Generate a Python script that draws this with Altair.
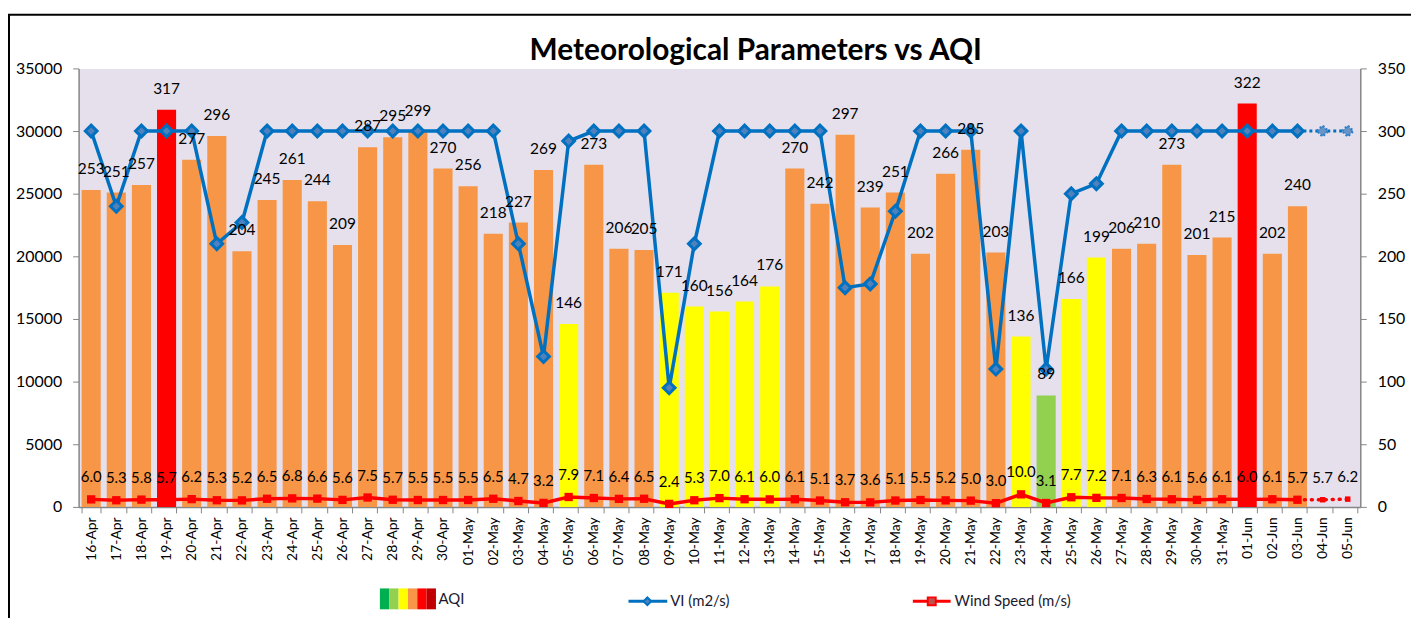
import altair as alt
import pandas as pd

# ---------------- data ----------------
dates = ["16-Apr", "17-Apr", "18-Apr", "19-Apr", "20-Apr", "21-Apr", "22-Apr", "23-Apr",
         "24-Apr", "25-Apr", "26-Apr", "27-Apr", "28-Apr", "29-Apr", "30-Apr",
         "01-May", "02-May", "03-May", "04-May", "05-May", "06-May", "07-May", "08-May",
         "09-May", "10-May", "11-May", "12-May", "13-May", "14-May", "15-May", "16-May",
         "17-May", "18-May", "19-May", "20-May", "21-May", "22-May", "23-May", "24-May",
         "25-May", "26-May", "27-May", "28-May", "29-May", "30-May", "31-May",
         "01-Jun", "02-Jun", "03-Jun", "04-Jun", "05-Jun"]

aqi = [253, 251, 257, 317, 277, 296, 204, 245, 261, 244, 209, 287, 295, 299, 270,
       256, 218, 227, 269, 146, 273, 206, 205, 171, 160, 156, 164, 176, 270, 242, 297,
       239, 251, 202, 266, 285, 203, 136, 89, 166, 199, 206, 210, 273, 201, 215,
       322, 202, 240]

vi = [30000, 24000, 30000, 30000, 30000, 21000, 22700, 30000, 30000, 30000, 30000,
      30000, 30000, 30000, 30000,
      30000, 30000, 21000, 12000, 29200, 30000, 30000, 30000, 9500, 21000, 30000,
      30000, 30000, 30000, 30000, 17500, 17800, 23600, 30000, 30000, 30000, 11000,
      30000, 11000, 25000, 25800, 30000, 30000, 30000, 30000, 30000,
      30000, 30000, 30000, 30000, 30000]

wind = [6.0, 5.3, 5.8, 5.7, 6.2, 5.3, 5.2, 6.5, 6.8, 6.6, 5.6, 7.5, 5.7, 5.5, 5.5,
        5.5, 6.5, 4.7, 3.2, 7.9, 7.1, 6.4, 6.5, 2.4, 5.3, 7.0, 6.1, 6.0, 6.1, 5.1,
        3.7, 3.6, 5.1, 5.5, 5.2, 5.0, 3.0, 10.0, 3.1, 7.7, 7.2, 7.1, 6.3, 6.1, 5.6, 6.1,
        6.0, 6.1, 5.7, 5.7, 6.2]

aqi_breaks = [51, 101, 201, 301, 401]
aqi_colors = ["#00B050", "#92D050", "#FFFF00", "#F79646", "#FF0000", "#C00000"]
title_text = "Meteorological Parameters vs AQI"
legend_labels = ["AQI", "VI (m2/s)", "Wind Speed (m/s)"]

n_obs = len(aqi)  # observed days; the rest are forecast
df = pd.DataFrame({"date": dates, "vi": vi, "wind": wind,
                   "aqi": aqi + [None] * (len(dates) - n_obs)})
df_obs = df.iloc[:n_obs]
df_fc = df.iloc[n_obs - 1:]

FONT = "Lato"

x_enc = alt.X("date:N", sort=dates, title=None,
              scale=alt.Scale(domain=dates, paddingInner=0.24, paddingOuter=0.12),
              axis=alt.Axis(labelAngle=-90, labelFontSize=14, labelFont=FONT,
                            labelColor="black", tickBand="extent", tickSize=6,
                            labelPadding=4, domainColor="#868686", tickColor="#868686",
                            domainWidth=1.5, grid=False))

right_scale = alt.Scale(domain=[0, 350], nice=False)
left_scale = alt.Scale(domain=[0, 35000], nice=False)

# AQI bars (right axis)
bars = alt.Chart(df_obs).mark_bar().encode(
    x=x_enc,
    y=alt.Y("aqi:Q", scale=right_scale, title=None,
            axis=alt.Axis(orient="right", values=[0, 50, 100, 150, 200, 250, 300, 350],
                          format="d", labelFontSize=16, labelFont=FONT, labelColor="black",
                          tickSize=6, labelPadding=11, domainColor="#868686",
                          tickColor="#868686", domainWidth=1.5, grid=False)),
    color=alt.Color("aqi:Q", legend=None,
                    scale=alt.Scale(type="threshold", domain=aqi_breaks, range=aqi_colors)),
)

# VI line (left axis)
vi_line = alt.Chart(df_obs).mark_line(color="#0070C0", strokeWidth=3.5).encode(
    x=x_enc,
    y=alt.Y("vi:Q", scale=left_scale, title=None,
            axis=alt.Axis(orient="left", values=list(range(0, 35001, 5000)), format="d",
                          labelFontSize=16, labelFont=FONT, labelColor="black",
                          tickSize=6, labelPadding=11, domainColor="#868686",
                          tickColor="#868686", domainWidth=1.5, grid=False)),
)
vi_pts = alt.Chart(df_obs).mark_point(shape="diamond", filled=True, size=140,
                                      fill="#4F81BD", stroke="#0070C0", strokeWidth=3,
                                      opacity=1).encode(
    x=x_enc, y=alt.Y("vi:Q", scale=left_scale, axis=None))
vi_fc_line = alt.Chart(df_fc).mark_line(color="#0070C0", strokeWidth=3,
                                        strokeDash=[3, 3]).encode(
    x=x_enc, y=alt.Y("vi:Q", scale=left_scale, axis=None))
vi_fc_pts = alt.Chart(df_fc.iloc[1:]).mark_point(shape="diamond", filled=True, size=120,
                                                 fill="#6A94C8", stroke="#2F7FC8",
                                                 strokeWidth=2.5, strokeDash=[2, 2],
                                                 opacity=1).encode(
    x=x_enc, y=alt.Y("vi:Q", scale=left_scale, axis=None))

# AQI labels
aqi_lbl = alt.Chart(df_obs).mark_text(font=FONT, fontSize=15.5, color="black",
                                      baseline="middle", dy=-21).encode(
    x=x_enc, y=alt.Y("aqi:Q", scale=right_scale, axis=None), text="aqi:Q")

# Wind speed (right axis scale)
wind_line = alt.Chart(df_obs).mark_line(color="#FF0000", strokeWidth=3.5).encode(
    x=x_enc, y=alt.Y("wind:Q", scale=right_scale, axis=None))
wind_pts = alt.Chart(df_obs).mark_point(shape="square", filled=True, size=70,
                                        color="#FF0000", opacity=1).encode(
    x=x_enc, y=alt.Y("wind:Q", scale=right_scale, axis=None))
wind_fc_line = alt.Chart(df_fc).mark_line(color="#FF0000", strokeWidth=3.5,
                                          strokeDash=[1, 6], strokeCap="round").encode(
    x=x_enc, y=alt.Y("wind:Q", scale=right_scale, axis=None))
wind_fc_pts = alt.Chart(df_fc.iloc[1:]).mark_point(shape="square", filled=True, size=30,
                                                   color="#FF0000", opacity=1).encode(
    x=x_enc, y=alt.Y("wind:Q", scale=right_scale, axis=None))
wind_lbl = alt.Chart(df).mark_text(font=FONT, fontSize=15, color="black",
                                   baseline="middle", dy=-22).encode(
    x=x_enc, y=alt.Y("wind:Q", scale=right_scale, axis=None),
    text=alt.Text("wind:Q", format=".1f"))

# ---------------- title & legend (manual) ----------------
one = pd.DataFrame({"k": [0]})
title_df = pd.DataFrame({"t": [title_text]})
title_mark = alt.Chart(title_df).mark_text(
    font=FONT, fontSize=30, fontWeight="bold", color="black", align="center",
    baseline="alphabetic").encode(x=alt.value(681), y=alt.value(-8), text="t:N")

leg_layers = []
for i, c in enumerate(aqi_colors):
    leg_layers.append(alt.Chart(one).mark_rect(color=c).encode(
        x=alt.value(303 + i * 9.4), x2=alt.value(303 + (i + 1) * 9.4),
        y=alt.value(523), y2=alt.value(544)))
leg_text = pd.DataFrame({"label": legend_labels})
leg_layers.append(alt.Chart(leg_text.iloc[[0]]).mark_text(
    font=FONT, fontSize=15, color="#1a1a2e", align="left", baseline="middle").encode(
    x=alt.value(362), y=alt.value(534), text="label:N"))
leg_layers.append(alt.Chart(one).mark_rule(color="#0070C0", strokeWidth=3).encode(
    x=alt.value(553), x2=alt.value(592), y=alt.value(536)))
leg_layers.append(alt.Chart(one).mark_point(shape="diamond", filled=True, size=60,
                                            fill="#4F81BD", stroke="#0070C0",
                                            strokeWidth=2, opacity=1).encode(
    x=alt.value(572), y=alt.value(536)))
leg_layers.append(alt.Chart(leg_text.iloc[[1]]).mark_text(
    font=FONT, fontSize=15, color="#1a1a2e", align="left", baseline="middle").encode(
    x=alt.value(595), y=alt.value(536), text="label:N"))
leg_layers.append(alt.Chart(one).mark_rule(color="#FF0000", strokeWidth=3).encode(
    x=alt.value(839), x2=alt.value(877), y=alt.value(536)))
leg_layers.append(alt.Chart(one).mark_point(shape="square", filled=True, size=64,
                                            fill="#C0504D", stroke="#FF0000",
                                            strokeWidth=2, opacity=1).encode(
    x=alt.value(858), y=alt.value(536)))
leg_layers.append(alt.Chart(leg_text.iloc[[2]]).mark_text(
    font=FONT, fontSize=15, color="#1a1a2e", align="left", baseline="middle").encode(
    x=alt.value(881), y=alt.value(536), text="label:N"))

# frame
frame_top = alt.Chart(one).mark_rule(color="black", strokeWidth=2).encode(
    x=alt.value(-75), x2=alt.value(1400), y=alt.value(-54))
frame_left = alt.Chart(one).mark_rule(color="black", strokeWidth=2).encode(
    x=alt.value(-70), y=alt.value(-54), y2=alt.value(620))

chart = alt.layer(
    bars, vi_line, vi_fc_line, vi_pts, vi_fc_pts, aqi_lbl,
    wind_line, wind_fc_line, wind_pts, wind_fc_pts, wind_lbl,
    title_mark, *leg_layers, frame_top, frame_left,
).resolve_scale(y="independent").resolve_axis(y="independent").properties(
    width=1289, height=441,
    autosize=alt.AutoSizeParams(type="none"),
    padding={"left": 71, "top": 59, "right": 51, "bottom": 110},
).configure_view(fill="#E5E0EC", stroke="transparent")

chart.save("out.html", embed_options={"renderer": "svg", "actions": False})
